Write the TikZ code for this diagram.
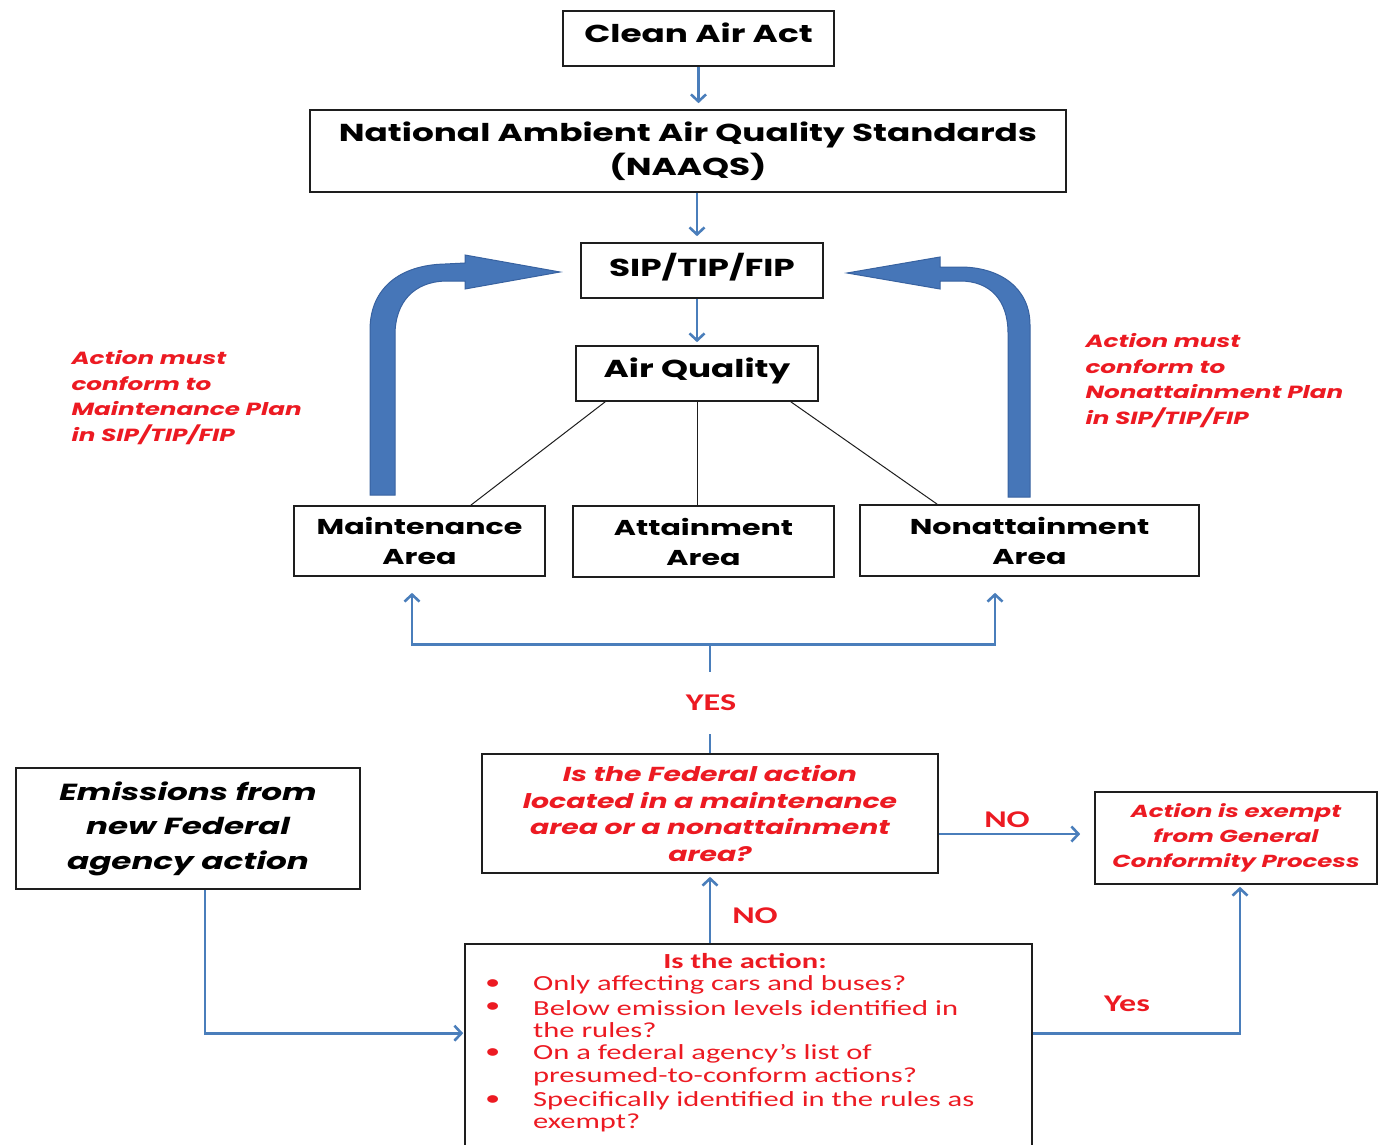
\documentclass[tikz,border=0pt]{standalone}
\usepackage{fontspec}
\usetikzlibrary{arrows.meta,calc}
\newfontfamily\gothic[FakeStretch=1.4]{Poppins}
\newfontfamily\calib[FakeStretch=1.42]{Carlito}
\definecolor{linkblue}{RGB}{74,126,187}
\definecolor{arrowfill}{RGB}{70,118,184}
\definecolor{arrowedge}{RGB}{56,98,160}
\definecolor{alertred}{RGB}{236,26,34}
\definecolor{boxline}{RGB}{30,30,30}
\tikzset{
  box/.style={draw=boxline, line width=1.6pt, align=center, inner sep=0pt},
  headtext/.style={font=\gothic\bfseries\fontsize{24.5}{34}\selectfont},
  areatext/.style={font=\gothic\bfseries\fontsize{21.5}{30}\selectfont},
  conn/.style={draw=linkblue, line width=2.8pt},
  tip/.style={-{Straight Barb[length=7pt,width=15pt,line width=2.6pt]}},
  redital/.style={text=alertred, font=\gothic\bfseries\itshape\fontsize{17.6}{25.5}\selectfont, align=left},
  bullet/.style={text=alertred, font=\calib\fontsize{21.5}{23}\selectfont, anchor=west, inner sep=0pt},
  answer/.style={text=alertred, font=\calib\bfseries\fontsize{24}{26}\selectfont},
  bigarrow/.style={fill=arrowfill, draw=arrowedge, line width=1pt},
}
\begin{document}
\begin{tikzpicture}[x=1pt, y=-1pt]
\useasboundingbox (0,0) rectangle (1378,1145);
\clip (0,0) rectangle (1378,1145);

% main chain
\node[box, headtext, text depth=12pt, minimum width=271pt, minimum height=55pt] (caa) at (698.5,38.5) {Clean Air Act};
\node[box, headtext, minimum width=756pt, minimum height=82pt] (naaqs) at (688,151) {National Ambient Air Quality Standards\\(NAAQS)};
\node[box, headtext, text depth=12pt, minimum width=242pt, minimum height=55pt] (sip) at (702,270.5) {SIP/TIP/FIP};
\node[box, headtext, text depth=12pt, minimum width=242pt, minimum height=55pt] (aq) at (697,373.5) {Air Quality};

% area classes
\node[box, areatext, minimum width=251pt, minimum height=70pt] (maint) at (419.5,541) {Maintenance\\Area};
\node[box, areatext, minimum width=261pt, minimum height=71pt] (attain) at (703.5,541.5) {Attainment\\Area};
\node[box, areatext, minimum width=339pt, minimum height=71pt] (nonatt) at (1029.5,540.5) {Nonattainment\\Area};

% decision boxes
\node[box, text=alertred, font=\gothic\bfseries\itshape\fontsize{20.2}{26.7}\selectfont, minimum width=456pt, minimum height=119pt] (fedq) at (710,813.5)
  {Is the Federal action\\located in a maintenance\\area or a nonattainment\\area?};
\node[box, text=alertred, font=\gothic\bfseries\itshape\fontsize{17.4}{25}\selectfont, minimum width=282pt, minimum height=92pt] (exempt) at (1236,838)
  {Action is exempt\\from General\\Conformity Process};
\node[box, font=\gothic\bfseries\itshape\fontsize{23.3}{34.5}\selectfont, minimum width=344pt, minimum height=121pt] (emis) at (188,828.5)
  {Emissions from\\new Federal\\agency action};
\node[box, minimum width=567pt, minimum height=230pt] (bot) at (748.5,1059) {};

% checklist inside the lower box
\node[text=alertred, font=\calib\bfseries\fontsize{21.5}{23}\selectfont] (q) at (745,961) {Is the action:};
\foreach \yy/\txt in {985/Only affecting cars and buses?, 1008/Below emission levels identified in, 1030/the rules?, 1054/On a federal agency’s list of, 1077/presumed-to-conform actions?, 1101/Specifically identified in the rules as, 1123/exempt?}
  \node[bullet] (l\yy) at (533,\yy) {\txt};
\foreach \yy in {985,1008,1054,1101}
  \node[bullet] (b\yy) at (485,\yy) {•};

% side notes
\node[redital, anchor=north west] (notel) at (68,347) {Action must\\conform to\\Maintenance Plan\\in SIP/TIP/FIP};
\node[redital, anchor=north west] (noter) at (1082,330) {Action must\\conform to\\Nonattainment Plan\\in SIP/TIP/FIP};

% bent block arrows back to the plan
\path[bigarrow] (370,495) -- (370,330) .. controls (370,288) and (400,265) .. (445,264) -- (465,263)
  -- (465,255) -- (560,272) -- (465,289) -- (465,281) -- (445,281)
  .. controls (414,282) and (395,302) .. (395,335) -- (395,495) -- cycle;
\path[bigarrow] (1030,497) -- (1030,325) .. controls (1030,288) and (1000,267) .. (960,267) -- (940,267)
  -- (940,257) -- (847,273) -- (940,289) -- (940,281) -- (960,281)
  .. controls (990,281) and (1008,300) .. (1008,333) -- (1008,497) -- cycle;

% chain arrows
\draw[conn, tip, shorten >=6pt] (caa.south) -- (caa.south |- naaqs.north);
\draw[conn, tip, shorten >=6pt] (naaqs.south -| aq.north) -- (sip.north -| aq.north);
\draw[conn, tip, shorten >=3pt] (sip.south -| aq.north) -- (aq.north);

% classification lines
\draw[boxline, line width=1pt] ($(aq.south west)+(30,0)$) -- ($(maint.north east)+(-75,0)$);
\draw[boxline, line width=1pt] (aq.south) -- (aq.south |- attain.north);
\draw[boxline, line width=1pt] ($(aq.south east)+(-28,0)$) -- ($(nonatt.north west)+(78,0)$);

% YES branch
\coordinate (hub) at ($(fedq.north)+(0,-109)$);
\coordinate (mt) at ($(maint.south)+(-7.5,16)$);
\coordinate (nt) at ($(nonatt.south)+(-34.5,16)$);
\draw[conn] (fedq.north) -- (hub);
\draw[conn, tip] (hub) -| (mt);
\draw[conn, tip] (hub) -| (nt);
\node[answer, fill=white, minimum height=62pt, minimum width=60pt, inner sep=0pt] (yes) at (711,703) {YES};

% NO branches
\draw[conn, tip, shorten >=14pt] (fedq.east |- 0,834) -- (exempt.west |- 0,834);
\node[answer] (no1) at (1007,820) {NO};
\draw[conn, tip, shorten >=3pt] (bot.north -| fedq.south) -- (fedq.south);
\node[answer] (no2) at (755,916) {NO};

% entry and exemption paths
\draw[conn, tip, shorten >=1pt] ($(emis.south)+(17,0)$) |- ($(bot.north west)+(0,90)$);
\draw[conn, tip, shorten >=2pt] ($(bot.north east)+(0,90)$) -| ($(exempt.south)+(4,0)$);
\node[answer] (yes2) at (1127,1004) {Yes};
\end{tikzpicture}
\end{document}
